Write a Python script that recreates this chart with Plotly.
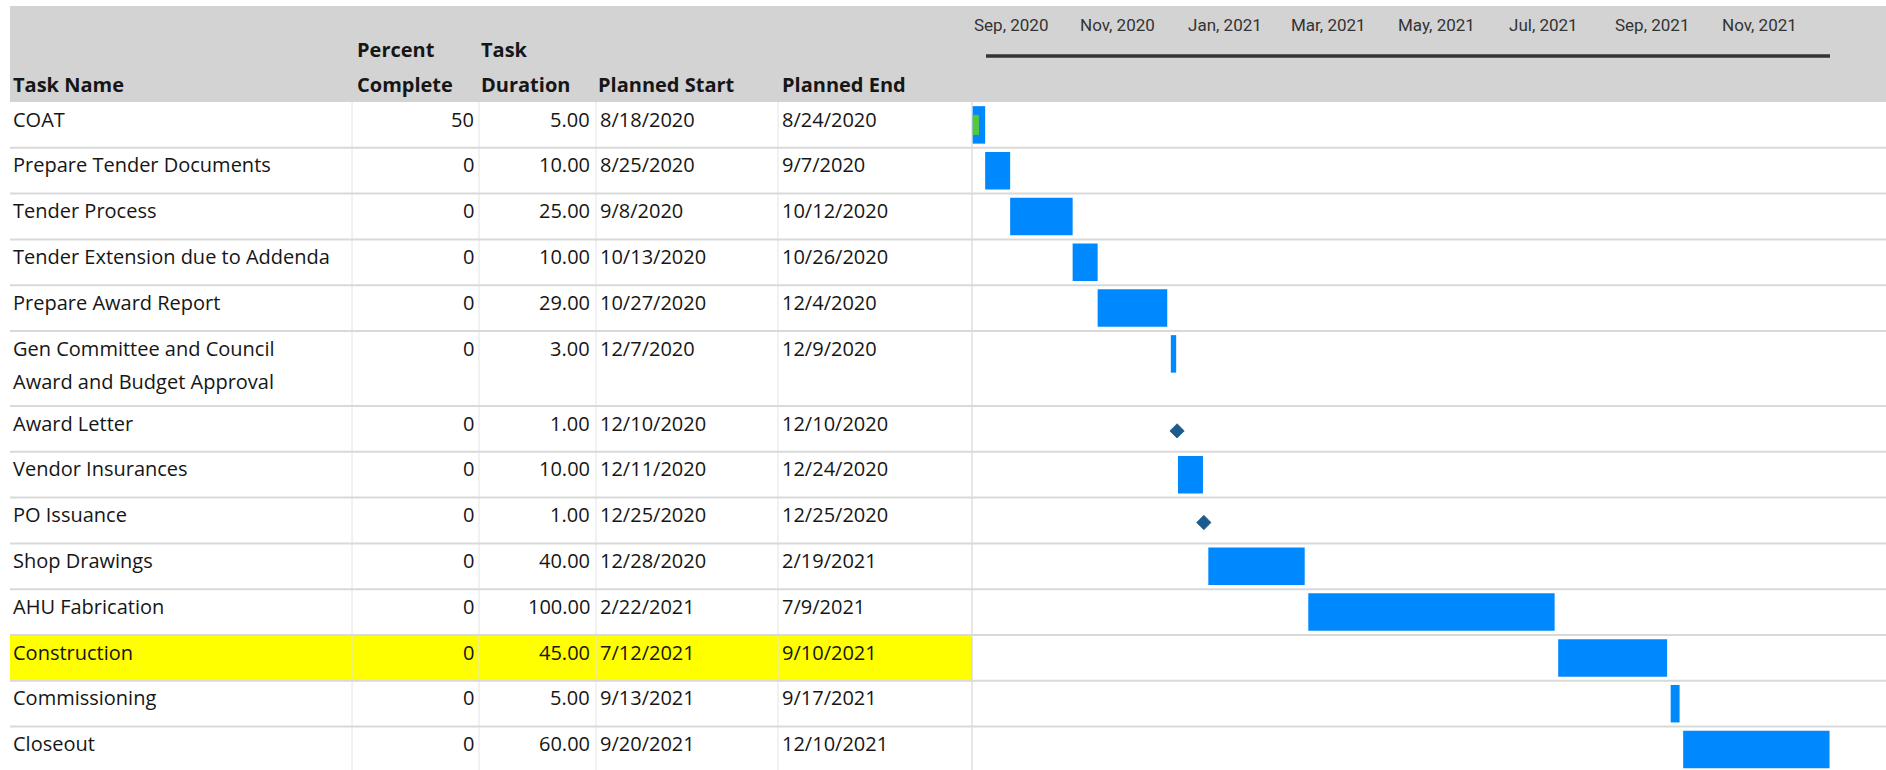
import pandas as pd
import plotly.graph_objects as go

# ---- schedule data ----
task_names = [
    "COAT",
    "Prepare Tender Documents",
    "Tender Process",
    "Tender Extension due to Addenda",
    "Prepare Award Report",
    "Gen Committee and Council\nAward and Budget Approval",
    "Award Letter",
    "Vendor Insurances",
    "PO Issuance",
    "Shop Drawings",
    "AHU Fabrication",
    "Construction",
    "Commissioning",
    "Closeout",
]
percent_complete = [50, 0, 0, 0, 0, 0, 0, 0, 0, 0, 0, 0, 0, 0]
task_duration = [5, 10, 25, 10, 29, 3, 1, 10, 1, 40, 100, 45, 5, 60]
planned_start = [
    "8/18/2020", "8/25/2020", "9/8/2020", "10/13/2020", "10/27/2020",
    "12/7/2020", "12/10/2020", "12/11/2020", "12/25/2020", "12/28/2020",
    "2/22/2021", "7/12/2021", "9/13/2021", "9/20/2021",
]
planned_end = [
    "8/24/2020", "9/7/2020", "10/12/2020", "10/26/2020", "12/4/2020",
    "12/9/2020", "12/10/2020", "12/24/2020", "12/25/2020", "2/19/2021",
    "7/9/2021", "9/10/2021", "9/17/2021", "12/10/2021",
]
milestone_tasks = ["Award Letter", "PO Issuance"]
highlighted_tasks = ["Construction"]

tick_months = ["2020-09-01", "2020-11-01", "2021-01-01", "2021-03-01",
               "2021-05-01", "2021-07-01", "2021-09-01", "2021-11-01"]
tick_labels = ["Sep, 2020", "Nov, 2020", "Jan, 2021", "Mar, 2021",
               "May, 2021", "Jul, 2021", "Sep, 2021", "Nov, 2021"]

# ---- page geometry (pixels) ----
W, H = 1886, 770
TABLE_LEFT = 10
HEADER_TOP, HEADER_BOTTOM = 6, 102
ROW_H, TALL_ROW_H = 45.8, 75.0
COL_EDGES = [TABLE_LEFT, 352, 479, 596, 778, 972]
GANTT_LEFT = COL_EDGES[-1]
TIMELINE_LEFT, TIMELINE_RIGHT, TIMELINE_Y = 986, 1830, 56
BAR_THICK, PROGRESS_THICK = 37.5, 20
VIEW_START = pd.Timestamp("2020-08-17 15:00")
VIEW_END = pd.Timestamp("2022-01-11 15:00")

FONT = "Open Sans"
TEXT_COLOR = "#161616"
BAR_COLOR = "#0088ff"
PROGRESS_COLOR = "#55c83a"
MILESTONE_COLOR = "#1c5b8c"
GRID_COLOR = "#d9d9d9"


def px(x):
    return x / W


# row placement
row_tops, row_heights = [], []
y = HEADER_BOTTOM
for name in task_names:
    h = TALL_ROW_H if "\n" in name else ROW_H
    row_tops.append(y)
    row_heights.append(h)
    y += h
bar_centers = [t + ROW_H / 2 for t in row_tops]

starts = pd.to_datetime(planned_start, format="%m/%d/%Y")
finishes = pd.to_datetime(planned_end, format="%m/%d/%Y") + pd.Timedelta(days=1)
span_ms = [(f - s).total_seconds() * 1000 for s, f in zip(starts, finishes)]

is_ms = [n in milestone_tasks for n in task_names]
bar_idx = [i for i, m in enumerate(is_ms) if not m]
ms_idx = [i for i, m in enumerate(is_ms) if m]

fig = go.Figure()

# task bars
fig.add_trace(go.Bar(
    orientation="h",
    base=[starts[i] for i in bar_idx],
    x=[span_ms[i] for i in bar_idx],
    y=[bar_centers[i] for i in bar_idx],
    width=BAR_THICK,
    marker=dict(color=BAR_COLOR, line=dict(width=0)),
    hoverinfo="skip",
    showlegend=False,
))

# progress (percent complete) inside the bars
fig.add_trace(go.Bar(
    orientation="h",
    base=[starts[i] for i in bar_idx],
    x=[span_ms[i] * percent_complete[i] / 100 for i in bar_idx],
    y=[bar_centers[i] for i in bar_idx],
    width=PROGRESS_THICK,
    marker=dict(color=PROGRESS_COLOR, line=dict(width=0)),
    hoverinfo="skip",
    showlegend=False,
))

# milestones
fig.add_trace(go.Scatter(
    x=[starts[i] + pd.Timedelta(days=task_duration[i] / 2) for i in ms_idx],
    y=[bar_centers[i] + 2 for i in ms_idx],
    mode="markers",
    marker=dict(symbol="diamond", size=11, color=MILESTONE_COLOR,
                line=dict(color=MILESTONE_COLOR, width=0.8)),
    hoverinfo="skip",
    showlegend=False,
))

shapes = []
# header band
shapes.append(dict(type="rect", xref="paper", yref="y", x0=px(TABLE_LEFT), x1=1,
                   y0=HEADER_TOP, y1=HEADER_BOTTOM, fillcolor="#d3d3d3",
                   line=dict(width=0), layer="below"))
# highlighted rows
for i, name in enumerate(task_names):
    if name in highlighted_tasks:
        shapes.append(dict(type="rect", xref="paper", yref="y", x0=px(TABLE_LEFT),
                           x1=px(GANTT_LEFT), y0=row_tops[i], y1=row_tops[i] + row_heights[i],
                           fillcolor="#ffff00", line=dict(width=0), layer="below"))
# column dividers
for cx in COL_EDGES[1:]:
    shapes.append(dict(type="line", xref="paper", yref="y", x0=px(cx), x1=px(cx),
                       y0=HEADER_BOTTOM, y1=H,
                       line=dict(color="#d0d0d0" if cx == GANTT_LEFT else "#e4e4e4", width=1),
                       layer="below"))
# row separators
for t, h in zip(row_tops, row_heights):
    shapes.append(dict(type="line", xref="paper", yref="y", x0=px(TABLE_LEFT), x1=1,
                       y0=t + h, y1=t + h, line=dict(color=GRID_COLOR, width=2),
                       layer="below"))
# dark rule spanning the whole project on the timeline header scale
shapes.append(dict(type="line", xref="x2", yref="y", x0=starts.min(), x1=finishes.max(),
                   y0=TIMELINE_Y, y1=TIMELINE_Y, line=dict(color="#333333", width=3.5)))

annotations = []


def label(x, yv, text, anchor="left", size=20, bold=False, color=TEXT_COLOR,
          family=FONT, xref="paper"):
    annotations.append(dict(
        x=px(x) if xref == "paper" else x, y=yv, xref=xref, yref="y",
        text=f"<b>{text}</b>" if bold else text,
        showarrow=False, xanchor=anchor, yanchor="middle",
        font=dict(family=family, size=size, color=color),
    ))


# table header
HDR1, HDR2 = 49, 84
label(11, HDR2, "Task Name", bold=True)
label(355, HDR1, "Percent", bold=True)
label(355, HDR2, "Complete", bold=True)
label(479, HDR1, "Task", bold=True)
label(479, HDR2, "Duration", bold=True)
label(596, HDR2, "Planned Start", bold=True)
label(780, HDR2, "Planned End", bold=True)

# table body
TEXT_DY, LINE_GAP = 17, 33.7
for i, name in enumerate(task_names):
    ty = row_tops[i] + TEXT_DY
    for k, line in enumerate(name.split("\n")):
        label(11, ty + k * LINE_GAP, line)
    label(476, ty, f"{percent_complete[i]}", anchor="right")
    label(592, ty, f"{task_duration[i]:.2f}", anchor="right")
    label(598, ty, planned_start[i])
    label(780, ty, planned_end[i])

# month labels along the timeline header scale
for d, t in zip(tick_months, tick_labels):
    label(d, 25, t, anchor="center", size=17, color="#333333",
          family="Roboto", xref="x2")

fig.update_layout(
    width=W, height=H,
    margin=dict(l=0, r=0, t=0, b=0),
    paper_bgcolor="white",
    plot_bgcolor="rgba(0,0,0,0)",
    barmode="overlay",
    shapes=shapes,
    annotations=annotations,
    xaxis=dict(type="date", domain=[px(GANTT_LEFT), 1], range=[VIEW_START, VIEW_END],
               showgrid=False, zeroline=False, showline=False, showticklabels=False,
               ticks=""),
    yaxis=dict(range=[H, 0], domain=[0, 1], visible=False, showgrid=False,
               zeroline=False),
    # timeline header: project span squeezed between the rule's ends
    xaxis2=dict(type="date", anchor="y2",
                domain=[px(TIMELINE_LEFT), px(TIMELINE_RIGHT)],
                range=[starts.min(), finishes.max()],
                showgrid=False, zeroline=False, showticklabels=False, ticks="",
                showline=False),
    yaxis2=dict(domain=[0, 1], range=[0, 1], visible=False, showgrid=False,
                zeroline=False),
)

fig.write_html("out.html")
